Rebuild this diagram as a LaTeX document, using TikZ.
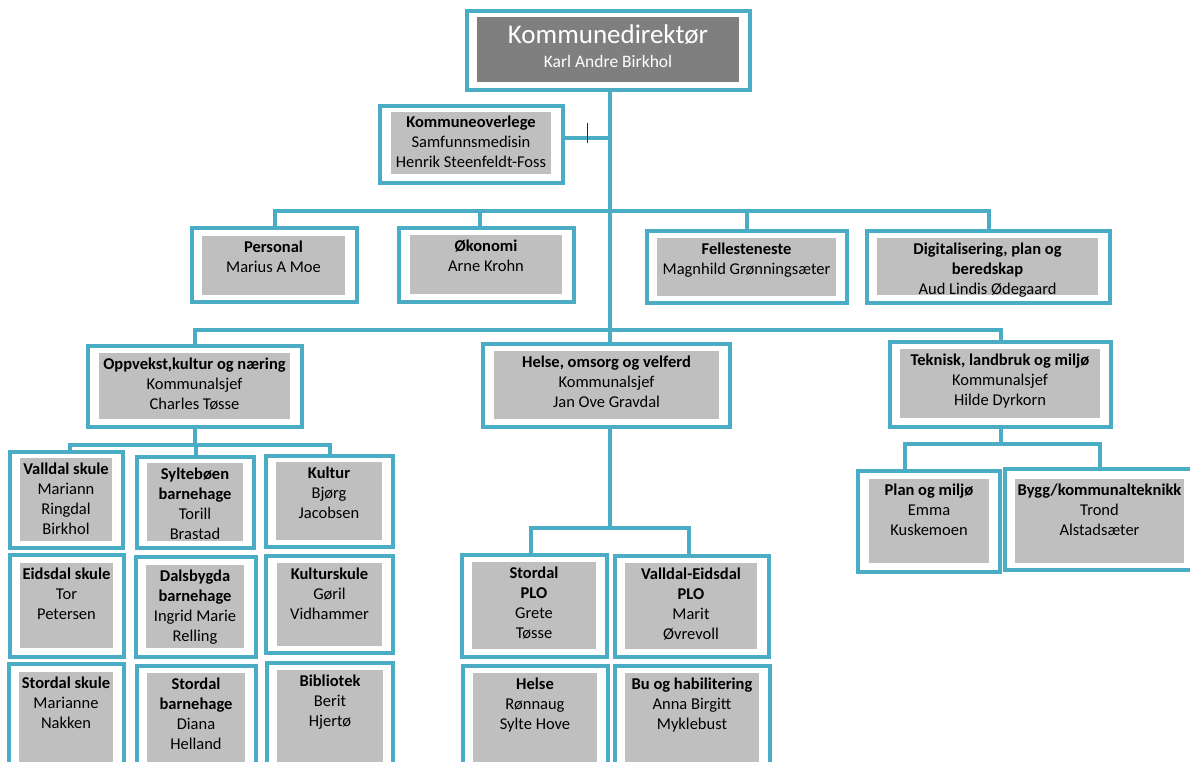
\documentclass[tikz,border=0pt]{standalone}
\usepackage{fontspec}
\setmainfont{Carlito}
\usetikzlibrary{fit,calc}
\definecolor{tealb}{HTML}{4BACC6}
\definecolor{gin}{HTML}{BFBFBF}
\definecolor{gdark}{HTML}{7F7F7F}
\tikzset{
  outerbox/.style={draw=tealb, line width=3.5pt, fill=white, inner sep=0pt},
  innerbox/.style={fill=gin, draw=none, inner sep=0pt},
  txt/.style={anchor=north, inner sep=0pt, align=center, font=\fontsize{16.5}{20}\selectfont, yshift=-2pt},
  conn/.style={draw=tealb, line width=4pt},
}
\newcommand\orgbox[6]{%
  \node[outerbox, fit={#2 #3}] (#1) {};
  \node[innerbox, fit={#4 #5}] (#1-in) {};
  \node[txt] (#1-t) at (#1-in.north) {\strut #6};
}
\begin{document}
\begin{tikzpicture}[x=1pt,y=-1pt]
\useasboundingbox (0,0) rectangle (1190,762);
\fill[white] (0,0) rectangle (1190,762);

% top box
\node[outerbox, fit={(467,11) (750,90)}] (kd) {};
\node[innerbox, fill=gdark, fit={(477,17) (739,82)}] (kd-in) {};
\node[anchor=base, inner sep=0pt, text=white, font=\fontsize{27}{30}\selectfont] (kd-t1) at ($(kd-in.north)+(0,27)$) {Kommunedirektør};
\node[anchor=base, inner sep=0pt, text=white, font=\fontsize{17.5}{20}\selectfont] (kd-t2) at ($(kd-in.north)+(0,51)$) {Karl Andre Birkhol};

\orgbox{ko}{(380,106)}{(563,183)}{(391,112)}{(551,174)}{\textbf{Kommuneoverlege}\\Samfunnsmedisin\\Henrik Steenfeldt-Foss}

\orgbox{pers}{(192,228)}{(357,302)}{(202,236)}{(345,295)}{\textbf{Personal}\\Marius A Moe}
\orgbox{oko}{(399,228)}{(574,302)}{(410,235)}{(562,294)}{\textbf{Økonomi}\\Arne Krohn}
\orgbox{fel}{(647,231)}{(847,303)}{(657,238)}{(836,296)}{\textbf{Fellesteneste}\\Magnhild Grønningsæter}
\orgbox{dig}{(867,231)}{(1110,303)}{(877,238)}{(1098,295)}{\textbf{Digitalisering, plan og}\\\textbf{beredskap}\\Aud Lindis Ødegaard}

\orgbox{opp}{(88,346)}{(302,427)}{(99,353)}{(290,419)}{\textbf{Oppvekst,kultur og næring}\\Kommunalsjef\\Charles Tøsse}
\orgbox{hov}{(483,344)}{(730,427)}{(494,351)}{(719,419)}{\textbf{Helse, omsorg og velferd}\\Kommunalsjef\\Jan Ove Gravdal}
\orgbox{tek}{(890,342)}{(1111,427)}{(900,349)}{(1100,418)}{\textbf{Teknisk, landbruk og miljø}\\Kommunalsjef\\Hilde Dyrkorn}

\orgbox{vsk}{(10,452)}{(123,548)}{(20,458)}{(112,541)}{\textbf{Valldal skule}\\Mariann\\Ringdal\\Birkhol}
\orgbox{syl}{(137,457)}{(254,548)}{(147,463)}{(243,541)}{\textbf{Syltebøen}\\\textbf{barnehage}\\Torill\\Brastad}
\orgbox{kul}{(266,456)}{(393,547)}{(276,462)}{(382,540)}{\textbf{Kultur}\\Bjørg\\Jacobsen}
\orgbox{esk}{(10,555)}{(124,657)}{(20,563)}{(113,648)}{\textbf{Eidsdal skule}\\Tor\\Petersen}
\orgbox{dbh}{(136,557)}{(256,657)}{(146,565)}{(244,648)}{\textbf{Dalsbygda}\\\textbf{barnehage}\\Ingrid Marie\\Relling}
\orgbox{ksk}{(266,556)}{(393,653)}{(277,563)}{(382,646)}{\textbf{Kulturskule}\\Gøril\\Vidhammer}
\orgbox{ssk}{(9,664)}{(124,790)}{(19,672)}{(113,790)}{\textbf{Stordal skule}\\Marianne\\Nakken}
\orgbox{sbh}{(137,666)}{(256,790)}{(147,673)}{(245,790)}{\textbf{Stordal}\\\textbf{barnehage}\\Diana\\Helland}
\orgbox{bib}{(267,663)}{(393,790)}{(277,670)}{(383,790)}{\textbf{Bibliotek}\\Berit\\Hjertø}

\orgbox{spl}{(462,555)}{(607,657)}{(472,562)}{(596,649)}{\textbf{Stordal}\\\textbf{PLO}\\Grete\\Tøsse}
\orgbox{vpl}{(615,556)}{(769,657)}{(625,563)}{(757,649)}{\textbf{Valldal-Eidsdal}\\\textbf{PLO}\\Marit\\Øvrevoll}
\orgbox{hel}{(463,666)}{(608,790)}{(473,673)}{(597,790)}{\textbf{Helse}\\Rønnaug\\Sylte Hove}
\orgbox{bu}{(615,666)}{(770,790)}{(625,673)}{(759,790)}{\textbf{Bu og habilitering}\\Anna Birgitt\\Myklebust}

\orgbox{plan}{(858,471)}{(1000,572)}{(869,479)}{(989,563)}{\textbf{Plan og miljø}\\Emma\\Kuskemoen}
\orgbox{bygg}{(1005,469)}{(1200,570)}{(1015,479)}{(1184,563)}{\textbf{Bygg/kommunalteknikk}\\Trond\\Alstadsæter}

% connectors
\coordinate (tx) at (610,0);
\coordinate (b2) at (0,211);
\coordinate (b3) at (0,330);
\coordinate (b4) at (0,445);
\coordinate (b5) at (0,528);
\coordinate (b6) at (0,444);

\draw[conn] (kd.south -| tx) -- (hov.north -| tx);
\draw[conn] ([yshift=6.5pt]ko.east) -- ([yshift=6.5pt]ko.east -| tx);

\draw[conn] (pers.north) |- (b2 -| dig.north) -- (dig.north);
\draw[conn] ([xshift=-6.5pt]oko.north) -- ([xshift=-6.5pt]oko.north |- b2);
\draw[conn] (fel.north) -- (fel.north |- b2);

\draw[conn] (opp.north) |- (b3 -| tek.north) -- (tek.north);

\draw[conn] (opp.south) -- (opp.south |- b4);
\draw[conn] ([xshift=3.5pt]vsk.north) |- (b4 -| kul.north) -- (kul.north);
\draw[conn] (syl.north) -- (syl.north |- b4);

\draw[conn] (hov.south -| tx) -- (b5 -| tx);
\draw[conn] ([xshift=-3.5pt]spl.north) |- ([xshift=-3pt]b5 -| vpl.north) -- ([xshift=-3pt]vpl.north);

\draw[conn] (tek.south) -- (tek.south |- b6);
\draw[conn] ([xshift=-24pt]plan.north) |- ([xshift=-2.5pt]b6 -| bygg.north) -- ([xshift=-2.5pt]bygg.north);

% text cursor mark
\draw[line width=1pt, black!85] (587,123) -- (587,136);
\draw[line width=1pt, red!60!black] (587,136) -- (587,143);
\end{tikzpicture}
\end{document}
